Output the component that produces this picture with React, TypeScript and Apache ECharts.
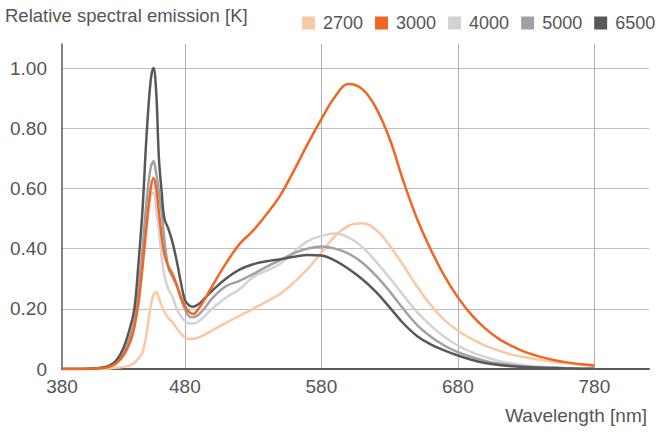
import React, { useEffect, useRef } from "react";
import * as echarts from "echarts";

const WAVELENGTHS = [390, 400, 410, 420, 425, 430, 435, 440, 443, 446, 449, 452, 455, 457, 459, 461, 463, 465, 468, 471, 474, 477, 480, 483, 486, 490, 495, 500, 510, 520, 530, 540, 550, 560, 570, 580, 590, 600, 610, 620, 630, 640, 650, 660, 670, 680, 690, 700, 710, 720, 730, 740, 750, 760, 770, 780];

const S2700 = [0, 0, 0, 0.001, 0.002, 0.004, 0.007, 0.012, 0.02, 0.035, 0.055, 0.12, 0.21, 0.245, 0.255, 0.235, 0.21, 0.19, 0.168, 0.155, 0.135, 0.118, 0.105, 0.1, 0.1, 0.105, 0.115, 0.128, 0.153, 0.177, 0.2, 0.225, 0.25, 0.288, 0.333, 0.387, 0.442, 0.476, 0.484, 0.463, 0.41, 0.345, 0.275, 0.213, 0.163, 0.127, 0.1, 0.078, 0.061, 0.047, 0.038, 0.031, 0.024, 0.019, 0.015, 0.012];
const S3000 = [0, 0, 0.001, 0.003, 0.008, 0.02, 0.045, 0.09, 0.14, 0.22, 0.34, 0.48, 0.6, 0.635, 0.6, 0.52, 0.44, 0.38, 0.34, 0.315, 0.28, 0.24, 0.21, 0.19, 0.183, 0.2, 0.235, 0.275, 0.35, 0.415, 0.46, 0.515, 0.578, 0.66, 0.748, 0.83, 0.905, 0.947, 0.93, 0.868, 0.765, 0.625, 0.5, 0.398, 0.31, 0.238, 0.18, 0.135, 0.1, 0.075, 0.055, 0.041, 0.03, 0.022, 0.016, 0.012];
const S4000 = [0, 0, 0.001, 0.003, 0.008, 0.02, 0.045, 0.09, 0.14, 0.22, 0.34, 0.47, 0.575, 0.585, 0.53, 0.46, 0.37, 0.31, 0.265, 0.24, 0.2, 0.175, 0.16, 0.151, 0.151, 0.158, 0.178, 0.2, 0.237, 0.265, 0.305, 0.327, 0.35, 0.39, 0.425, 0.442, 0.45, 0.437, 0.405, 0.357, 0.303, 0.245, 0.19, 0.145, 0.107, 0.078, 0.056, 0.04, 0.027, 0.018, 0.012, 0.008, 0.005, 0.003, 0.002, 0.001];
const S5000 = [0, 0, 0.001, 0.004, 0.01, 0.025, 0.055, 0.11, 0.16, 0.26, 0.4, 0.56, 0.67, 0.69, 0.65, 0.59, 0.52, 0.43, 0.335, 0.305, 0.278, 0.235, 0.2, 0.175, 0.172, 0.18, 0.205, 0.235, 0.275, 0.293, 0.315, 0.34, 0.362, 0.385, 0.4, 0.407, 0.4, 0.383, 0.353, 0.31, 0.258, 0.2, 0.147, 0.108, 0.078, 0.056, 0.04, 0.027, 0.018, 0.012, 0.008, 0.005, 0.004, 0.002, 0.001, 0.001];
const S6500 = [0, 0, 0.001, 0.005, 0.012, 0.03, 0.07, 0.14, 0.2, 0.35, 0.53, 0.78, 0.96, 1.0, 0.92, 0.7, 0.59, 0.5, 0.465, 0.42, 0.36, 0.29, 0.23, 0.212, 0.207, 0.215, 0.237, 0.26, 0.3, 0.33, 0.348, 0.358, 0.365, 0.373, 0.379, 0.377, 0.36, 0.332, 0.298, 0.256, 0.205, 0.152, 0.11, 0.082, 0.062, 0.045, 0.031, 0.02, 0.013, 0.009, 0.006, 0.004, 0.003, 0.002, 0.001, 0.001];

const SERIES_NAMES = ["2700", "3000", "4000", "5000", "6500"];
const SERIES_VALUES = [S2700, S3000, S4000, S5000, S6500];
const COLORS = ["#fbc8a4", "#f26522", "#d3d3d5", "#a1a1a4", "#58585a"];
const X_TICKS = [390, 480, 580, 680, 780];
const X_TICK_LABELS = ["380", "480", "580", "680", "780"];

const FONT = "Liberation Sans, Arial, sans-serif";
const TEXT = "#555555";

export default function App() {
  const ref = useRef<HTMLDivElement>(null);
  useEffect(() => {
    if (!ref.current) return;
    const chart = echarts.init(ref.current, null, { renderer: "svg" });
    chart.setOption({
      animation: false,
      textStyle: { fontFamily: FONT },
      grid: { left: 62, right: 12, top: 44, bottom: 67, containLabel: false },
      legend: {
        data: SERIES_NAMES,
        left: 297,
        top: 9,
        icon: "rect",
        itemWidth: 13,
        itemHeight: 13,
        itemGap: 12,
        textStyle: { fontSize: 18, color: TEXT, fontFamily: FONT, padding: [0, 0, 0, 3] },
      },
      graphic: [
        {
          type: "text",
          left: 5,
          top: 6,
          style: { text: "Relative spectral emission [K]", fontSize: 18.5, fill: TEXT, fontFamily: FONT },
        },
        {
          type: "text",
          right: 14,
          top: 406,
          style: { text: "Wavelength [nm]", fontSize: 19, fill: TEXT, fontFamily: FONT },
        },
      ],
      xAxis: {
        type: "value",
        min: 390,
        max: 820,
        axisLine: { show: true, lineStyle: { color: "#5a5a5a", width: 2 } },
        axisTick: { show: false, customValues: X_TICKS },
        axisLabel: {
          customValues: X_TICKS,
          fontSize: 19,
          color: TEXT,
          margin: 8,
          formatter: (v: number) => X_TICK_LABELS[X_TICKS.indexOf(v)] ?? String(v),
        },
        splitLine: { show: true, showMinLine: false, lineStyle: { color: "#b0b0b0", width: 1 } },
      },
      yAxis: {
        type: "value",
        min: 0,
        max: 1.08,
        interval: 0.2,
        axisLine: { show: true, lineStyle: { color: "#5a5a5a", width: 1.5 } },
        axisTick: { show: false },
        axisLabel: {
          fontSize: 19,
          color: TEXT,
          margin: 15,
          showMaxLabel: false,
          formatter: (v: number) => (v === 0 ? "0" : v.toFixed(2)),
        },
        splitLine: { show: true, showMaxLine: false, showMinLine: false, lineStyle: { color: "#bdbdbd", width: 1 } },
      },
      series: SERIES_NAMES.map((name, i) => ({
        name,
        type: "line",
        data: WAVELENGTHS.map((w, j) => [w, SERIES_VALUES[i][j]]),
        smooth: 0.4,
        showSymbol: false,
        symbol: "none",
        color: COLORS[i],
        lineStyle: { color: COLORS[i], width: 2.5 },
        z: i === 1 ? 3 : 2,
      })),
    });
    return () => chart.dispose();
  }, []);
  return <div ref={ref} style={{ width: 661, height: 436, position: "absolute", left: 0, top: 0 }} />;
}
